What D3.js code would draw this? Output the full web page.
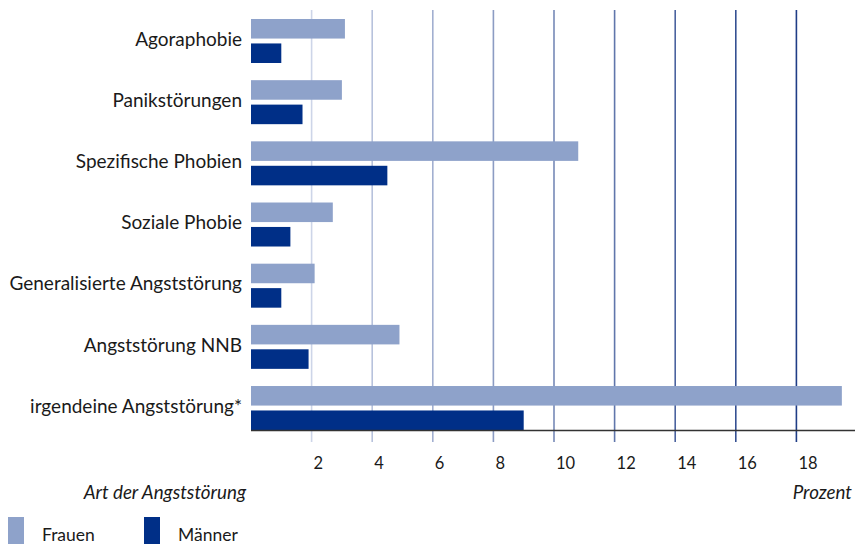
<!DOCTYPE html>
<html>
<head>
<meta charset="utf-8">
<script src="https://cdn.jsdelivr.net/npm/d3@7"></script>
<style>
  html, body { margin: 0; padding: 0; background: #fff; }
  svg { display: block; }
  text { font-family: Lato, "Open Sans", sans-serif; fill: #1a1a1a; }
</style>
</head>
<body>
<svg id="chart" width="855" height="548"></svg>
<script>
const categories = ["Agoraphobie", "Panikstörungen", "Spezifische Phobien", "Soziale Phobie",
  "Generalisierte Angststörung", "Angststörung NNB", "irgendeine Angststörung*"];
const series = ["Frauen", "Männer"];
const frauen = [3.1, 3.0, 10.8, 2.7, 2.1, 4.9, 19.5];
const maenner = [1.0, 1.7, 4.5, 1.3, 1.0, 1.9, 9.0];
const ticks = [2, 4, 6, 8, 10, 12, 14, 16, 18];
const xTitle = "Prozent";
const yTitle = "Art der Angststörung";

const colors = { "Frauen": "#8ea2ca", "Männer": "#002f87" };

const svg = d3.select("#chart");
const x = d3.scaleLinear().domain([0, 20]).range([251, 857]);
const step = 61.17;
const y = d3.scaleBand().domain(categories).range([19, 19 + step * categories.length]).padding(0);
const sub = d3.scaleBand().domain(series).range([0, 44]).paddingInner(0.2).paddingOuter(0);

const gridColor = d3.scaleLinear().domain([2, 18]).range(["#cdd5e8", "#1f3d86"]).interpolate(d3.interpolateRgb);

const axisY = 430.5;

// gridlines
svg.append("g").selectAll("line").data(ticks).join("line")
  .attr("x1", d => x(d)).attr("x2", d => x(d))
  .attr("y1", 10).attr("y2", 442)
  .attr("stroke", d => gridColor(d)).attr("stroke-width", 1.6);

// bars
const data = [];
categories.forEach((c, i) => {
  data.push({ c, s: "Frauen", v: frauen[i] });
  data.push({ c, s: "Männer", v: maenner[i] });
});
svg.append("g").selectAll("rect").data(data).join("rect")
  .attr("x", x(0))
  .attr("y", d => y(d.c) + sub(d.s))
  .attr("width", d => x(d.v) - x(0))
  .attr("height", sub.bandwidth())
  .attr("fill", d => colors[d.s]);

// x axis line
svg.append("line").attr("x1", x(0)).attr("x2", 855).attr("y1", axisY).attr("y2", axisY)
  .attr("stroke", "#333").attr("stroke-width", 1.5);

// tick labels
svg.append("g").selectAll("text").data(ticks).join("text")
  .attr("x", d => x(d) + 2).attr("y", 469)
  .attr("text-anchor", "start")
  .attr("font-size", 16.5)
  .text(d => d);

// category labels
svg.append("g").selectAll("text").data(categories).join("text")
  .attr("x", 242).attr("y", d => y(d) + 22)
  .attr("text-anchor", "end").attr("dominant-baseline", "middle")
  .attr("font-size", 19)
  .text(d => d);

// axis titles
svg.append("text").attr("x", 246).attr("y", 499).attr("text-anchor", "end")
  .attr("font-size", 18.8).attr("font-style", "italic").text(yTitle);
svg.append("text").attr("x", 852).attr("y", 499).attr("text-anchor", "end")
  .attr("font-size", 18.8).attr("font-style", "italic").text(xTitle);

// legend
const legX = [8, 144];
series.forEach((s, i) => {
  svg.append("rect").attr("x", legX[i]).attr("y", 517).attr("width", 16).attr("height", 27)
    .attr("fill", colors[s]);
  svg.append("text").attr("x", legX[i] + 34).attr("y", 541)
    .attr("font-size", 17.5).text(s);
});
</script>
</body>
</html>
